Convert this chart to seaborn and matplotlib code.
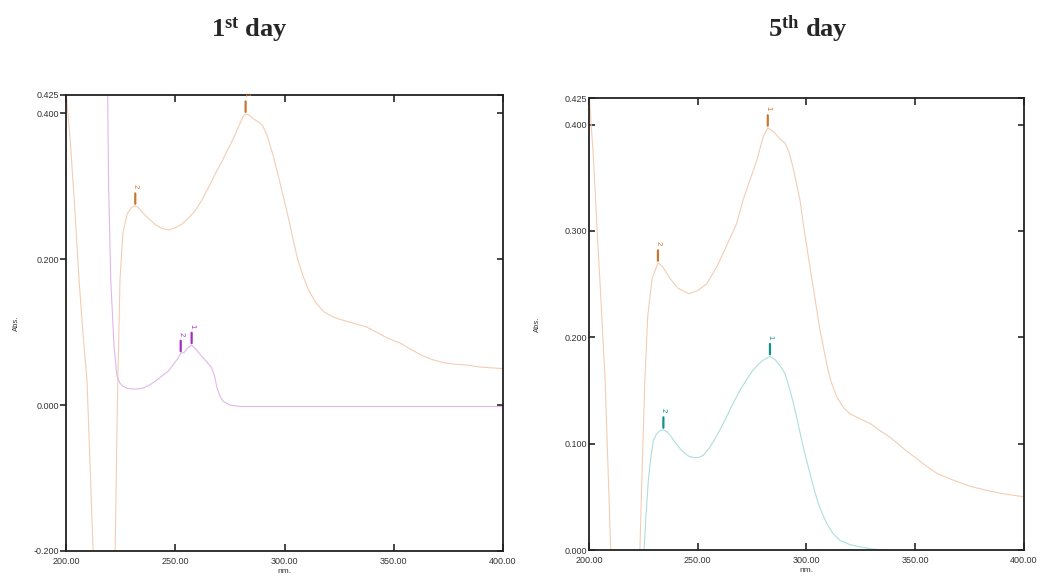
import numpy as np
import pandas as pd
import matplotlib
matplotlib.use("Agg")
import matplotlib.pyplot as plt
import seaborn as sns

# ---------------- data ----------------
# Day 1 panel: reference (orange) spectrum
d1_ref_nm = [200, 202, 204, 206, 208, 209.6, 211, 212.4, 214, 216, 219, 221, 222.5, 223.5,
             224.7, 226, 228, 230, 231.7, 233, 235, 238, 241, 244, 247, 250, 253, 256, 259,
             262, 265, 268, 271, 274, 277, 279, 281, 282.2, 284, 286, 288, 290, 292, 295,
             297.5, 299.5, 302, 304, 306, 308.6, 311, 313, 314.7, 318, 322, 327, 332, 337.6, 342,
             347, 352.9, 358, 363, 368, 373, 378, 383, 390, 395, 400]
d1_ref_abs = [0.432, 0.36, 0.27, 0.17, 0.09, 0.034, -0.08, -0.2, -0.35, -0.45, -0.45, -0.32, -0.2, 0.0,
              0.171, 0.235, 0.262, 0.271, 0.273, 0.271, 0.264, 0.255, 0.247, 0.242, 0.24, 0.243, 0.248, 0.256, 0.266,
              0.28, 0.297, 0.315, 0.332, 0.35, 0.368, 0.382, 0.395, 0.399, 0.397, 0.392, 0.388, 0.383, 0.37, 0.34,
              0.31, 0.285, 0.254, 0.226, 0.2, 0.176, 0.158, 0.147, 0.139, 0.128, 0.121, 0.116, 0.112, 0.107, 0.1,
              0.092, 0.085, 0.076, 0.068, 0.062, 0.058, 0.056, 0.055, 0.052, 0.051, 0.050]
# Day 1 panel: sample (purple) spectrum
d1_smp_nm = [216, 218, 219, 219.5, 220.5, 222, 223.3, 224.7, 226, 228, 230.7, 232.5, 235, 238,
             241, 244, 247, 249, 251, 252.5, 254, 255.5, 257.5, 259, 261, 263, 265, 266.5, 268,
             269, 270.5, 272, 275, 280, 300, 350, 400]
d1_smp_abs = [0.8, 0.6, 0.45, 0.3, 0.17, 0.08, 0.04, 0.03, 0.026, 0.023, 0.022, 0.022, 0.023, 0.027,
              0.033, 0.04, 0.047, 0.055, 0.063, 0.071, 0.072, 0.078, 0.082, 0.078, 0.071, 0.064, 0.057, 0.052, 0.04,
              0.025, 0.012, 0.005, 0.0, -0.002, -0.002, -0.002, -0.002]
d1_ref_peaks = [282.2, 231.7]
d1_smp_peaks = [257.5, 252.5]

# Day 5 panel: reference (orange) spectrum
d5_ref_nm = [200, 202, 204, 205, 207.4, 210, 212, 215, 220, 223.4, 224.5, 225.7, 227, 229, 231.7,
             234, 237, 241, 246, 250, 254, 258.7, 263, 267.9, 270.8, 274, 277.1, 280, 282.2, 285,
             288, 290, 292, 294, 297, 299, 301.6, 304, 306.2, 309.3, 311, 313.9, 317, 320, 325,
             329.2, 334, 338.4, 342, 346, 350, 355, 360, 367, 375, 383, 390, 400]
d5_ref_abs = [0.43, 0.37, 0.29, 0.254, 0.16, 0.0, -0.1, -0.2, -0.2, 0.0, 0.08, 0.16, 0.22, 0.255, 0.27,
              0.266, 0.256, 0.246, 0.241, 0.244, 0.25, 0.266, 0.285, 0.307, 0.329, 0.348, 0.366, 0.388, 0.397, 0.393,
              0.386, 0.383, 0.374, 0.358, 0.329, 0.3, 0.266, 0.235, 0.207, 0.175, 0.16, 0.144, 0.134, 0.128, 0.123,
              0.119, 0.112, 0.106, 0.1, 0.093, 0.087, 0.079, 0.072, 0.066, 0.06, 0.056, 0.053, 0.05]
# Day 5 panel: sample (teal) spectrum
d5_smp_nm = [224, 225.3, 226.3, 227.3, 228.5, 229.6, 231, 232.5, 234.2, 236, 238, 240, 242, 244,
             246, 248, 250.3, 252.5, 255, 257.5, 260.2, 263, 266, 269.4, 272.4, 275, 278, 280.5,
             283.2, 285.5, 288, 290.1, 292, 294, 296, 297.8, 299.7, 301.6, 303.5, 305.4, 307.3,
             309.3, 312, 315.4, 320, 324.6, 330, 335, 340, 350, 400]
d5_smp_abs = [-0.05, 0.0, 0.035, 0.066, 0.088, 0.103, 0.109, 0.112, 0.113, 0.111, 0.106, 0.1, 0.095, 0.091,
              0.088, 0.087, 0.087, 0.089, 0.095, 0.103, 0.113, 0.124, 0.137, 0.15, 0.16, 0.168, 0.175, 0.179,
              0.182, 0.179, 0.173, 0.166, 0.153, 0.138, 0.12, 0.103, 0.087, 0.072, 0.057, 0.044, 0.034,
              0.025, 0.016, 0.009, 0.005, 0.003, 0.001, 0.0, -0.001, -0.002, -0.002]
d5_ref_peaks = [282.2, 231.7]
d5_smp_peaks = [283.2, 234.2]

peak_labels = ["1", "2"]
x_ticks = [200, 250, 300, 350, 400]
d1_y_ticks = [-0.2, 0.0, 0.2, 0.4, 0.425]
d5_y_ticks = [0.0, 0.1, 0.2, 0.3, 0.4, 0.425]
panel_titles = [r"$\mathbf{1^{st}}$ day", r"$\mathbf{5^{th}}$ day"]
axis_x_label = "nm."
axis_y_label = "Abs."

# ---------------- style ----------------
sns.set_theme(style="ticks")
plt.rcParams["font.family"] = ["Liberation Sans", "DejaVu Sans"]
plt.rcParams["mathtext.fontset"] = "custom"
plt.rcParams["mathtext.bf"] = "Liberation Serif:bold"
plt.rcParams["mathtext.rm"] = "Liberation Serif:bold"

ref_line = "#f3cdb2"
ref_mark = "#c8782e"
colors = {"d1_smp": ("#e3b5ea", "#a52fc0"), "d5_smp": ("#acdedb", "#12918c")}

fig = plt.figure(figsize=(10.45, 5.78), dpi=100)
ax1 = fig.add_axes([66 / 1045, 1 - 551 / 578, 437 / 1045, 456 / 578])
ax2 = fig.add_axes([589 / 1045, 1 - 550 / 578, 435 / 1045, 452 / 578])


def draw_panel(ax, ref_nm, ref_abs, smp_nm, smp_abs, smp_colors, ylim, yticks,
               ref_peaks, smp_peaks, ydir, ylab_x):
    df = pd.concat([
        pd.DataFrame({"nm": ref_nm, "Abs": ref_abs, "series": "ref"}),
        pd.DataFrame({"nm": smp_nm, "Abs": smp_abs, "series": "smp"}),
    ], ignore_index=True)
    sns.lineplot(data=df, x="nm", y="Abs", hue="series",
                 palette={"ref": ref_line, "smp": smp_colors[0]},
                 estimator=None, sort=False, legend=False, lw=0.8, ax=ax)
    ax.set_xlim(200, 400)
    ax.set_ylim(*ylim)
    ax.set_xticks(x_ticks)
    ax.set_xticklabels([f"{v:.2f}" for v in x_ticks])
    ax.set_yticks(yticks)
    ax.set_yticklabels([f"{v:.3f}" for v in yticks])
    ax.set_xlabel(axis_x_label, fontsize=6, labelpad=1.5, color="#333333")
    ax.set_ylabel(axis_y_label, fontsize=5.5, color="#333333")
    ax.yaxis.set_label_coords(ylab_x, 0.5)
    ax.tick_params(axis="x", direction="in", top=True, bottom=True, length=5, width=1.2,
                   labelsize=6.5, pad=4, labelcolor="#333333")
    ax.tick_params(axis="y", direction=ydir, left=True, right=False, length=4, width=1.2,
                   labelsize=6.5, pad=1, labelcolor="#333333")
    sec = ax.secondary_yaxis("right")
    sec.set_yticks(yticks)
    sec.tick_params(direction="in", length=4, width=1.2, labelright=False)
    sec.spines["right"].set_visible(False)
    for s in ax.spines.values():
        s.set_linewidth(1.3)
        s.set_color("#222222")
    # peak markers
    for nm_list, ab_list, peaks, mcol in [(ref_nm, ref_abs, ref_peaks, ref_mark),
                                          (smp_nm, smp_abs, smp_peaks, smp_colors[1])]:
        for lab, p in zip(peak_labels, peaks):
            yv = ab_list[list(nm_list).index(p)]
            ax.annotate("", xy=(p, yv), xytext=(0, 9), textcoords="offset points",
                        arrowprops=dict(arrowstyle="-", lw=1.6, color=mcol, shrinkA=0, shrinkB=1.5))
            ax.annotate(lab, xy=(p, yv), xytext=(0, 12.5), textcoords="offset points",
                        rotation=-90, fontsize=5.5, color=mcol, ha="center", va="bottom")


draw_panel(ax1, d1_ref_nm, d1_ref_abs, d1_smp_nm, d1_smp_abs, colors["d1_smp"],
           (-0.2, 0.425), d1_y_ticks, d1_ref_peaks, d1_smp_peaks, "out", -0.105)
draw_panel(ax2, d5_ref_nm, d5_ref_abs, d5_smp_nm, d5_smp_abs, colors["d5_smp"],
           (0.0, 0.425), d5_y_ticks, d5_ref_peaks, d5_smp_peaks, "in", -0.11)

fig.text(249 / 1045, 1 - 37 / 578, panel_titles[0], ha="center", va="baseline",
         fontsize=19, fontfamily="Liberation Serif", fontweight="bold")
fig.text(808 / 1045, 1 - 37 / 578, panel_titles[1], ha="center", va="baseline",
         fontsize=19, fontfamily="Liberation Serif", fontweight="bold")

fig.savefig("out.png", dpi=100)
